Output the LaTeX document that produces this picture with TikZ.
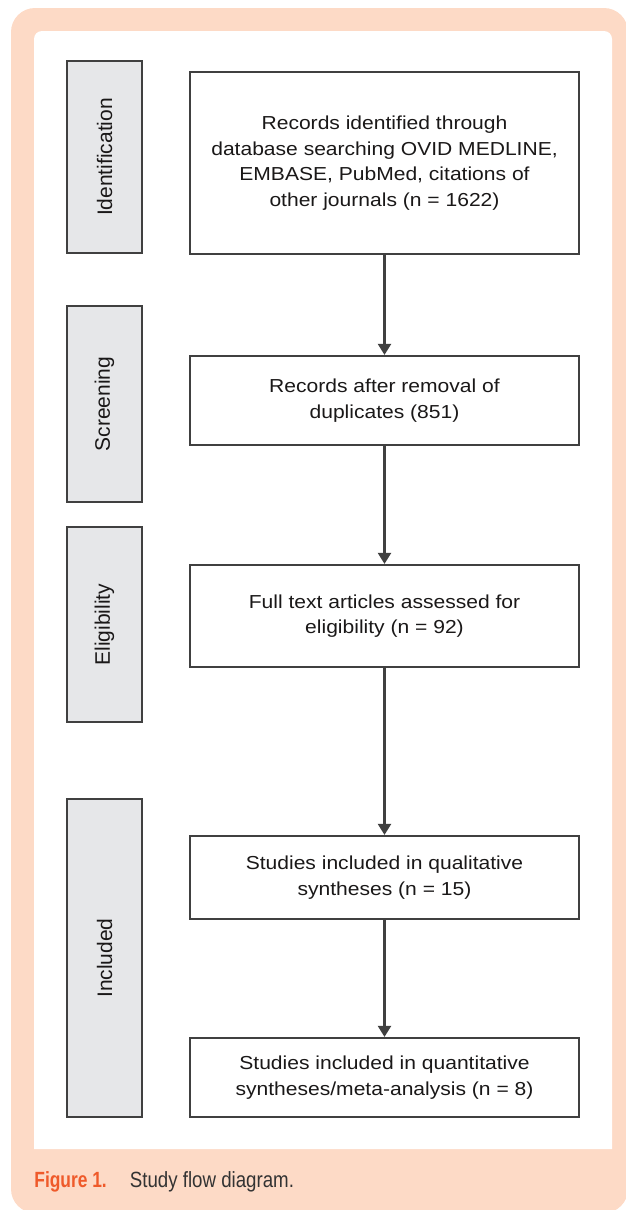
\documentclass[tikz,border=0pt]{standalone}
\usepackage{fontspec}
\setmainfont{Liberation Sans}
\newfontfamily\boxfont{Liberation Sans}[FakeStretch=1.12]
\newfontfamily\capfont{Liberation Sans}[FakeStretch=0.85]
\newfontfamily\capboldfont{Liberation Sans Bold}[FakeStretch=0.79]
\usetikzlibrary{arrows.meta,shadows}
\definecolor{peach}{HTML}{FDDAC6}
\definecolor{figred}{HTML}{EF5A2A}
\definecolor{boxline}{HTML}{404040}
\definecolor{sidefill}{HTML}{E6E7E9}
\definecolor{txt}{HTML}{1A1818}
\definecolor{captxt}{HTML}{333333}
\tikzset{
  shadowed/.style={drop shadow={shadow xshift=0.7pt, shadow yshift=-0.7pt, fill=black!35, opacity=1}},
  mainbox/.style={draw=boxline, line width=1.1pt, fill=white, shadowed, minimum width=194.5pt,
    align=center, text=txt, inner sep=0pt, font=\boxfont\fontsize{9.4}{12.75}\selectfont},
  sidebox/.style={draw=boxline, line width=1.1pt, fill=sidefill, shadowed, minimum width=37.5pt,
    inner sep=0pt, text=txt, font=\fontsize{10.5}{12}\selectfont},
  flow/.style={draw=boxline, line width=1.1pt, -{Triangle[length=5.5pt,width=6.5pt]}}
}
\begin{document}
\begin{tikzpicture}[x=0.5pt,y=-0.5pt]
\useasboundingbox (0,0) rectangle (626,1210);
% background panel
\fill[peach, rounded corners=12pt] (11,8) rectangle (628,1213);
\fill[white] (34,1149) [rounded corners=4pt] -- (34,31) -- (612,31) [sharp corners] -- (612,1149) -- cycle;
% side labels
\node[sidebox, minimum height=96pt] (sid) at (104.5,157) {\rotatebox{90}{Identification}};
\node[sidebox, minimum height=98pt] (sscr) at (104.5,404) {\rotatebox{90}{Screening}};
\node[sidebox, minimum height=97.5pt] (selig) at (104.5,624.5) {\rotatebox{90}{Eligibility}};
\node[sidebox, minimum height=159pt] (sinc) at (104.5,958) {\rotatebox{90}{Included}};
% main boxes
\node[mainbox, minimum height=91pt] (b1) at (384.5,163) {Records identified through\\database searching OVID MEDLINE,\\EMBASE, PubMed, citations of\\other journals (n = 1622)};
\node[mainbox, minimum height=44.5pt] (b2) at (384.5,400.5) {Records after removal of\\duplicates (851)};
\node[mainbox, minimum height=51pt] (b3) at (384.5,616) {Full text articles assessed for\\eligibility (n = 92)};
\node[mainbox, minimum height=41.5pt] (b4) at (384.5,877.5) {Studies included in qualitative\\syntheses (n = 15)};
\node[mainbox, minimum height=39.5pt] (b5) at (384.5,1077.5) {Studies included in quantitative\\syntheses/meta-analysis (n = 8)};
% connectors
\draw[flow] (b1) -- (b2);
\draw[flow] (b2) -- (b3);
\draw[flow] (b3) -- (b4);
\draw[flow] (b4) -- (b5);
% caption
\node[anchor=base west, inner sep=0pt, font=\capfont\fontsize{11}{13}\selectfont] (cap) at (34,1187)
  {\textcolor{figred}{\capboldfont Figure 1.}\hspace{11.5pt}\textcolor{captxt}{Study flow diagram.}};
\end{tikzpicture}
\end{document}
